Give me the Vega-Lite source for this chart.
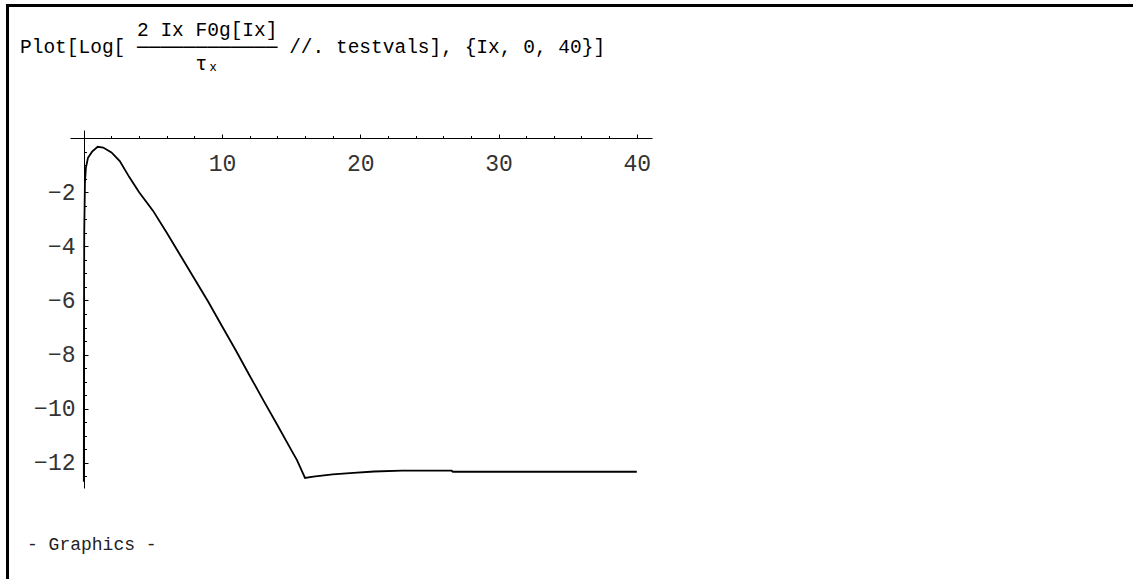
{
  "$schema": "https://vega.github.io/schema/vega-lite/v6.json",
  "width": 582,
  "height": 358,
  "autosize": {"type": "none"},
  "padding": {"left": 70, "top": 130, "right": 481, "bottom": 91},
  "background": "white",
  "config": {"view": {"stroke": null}, "font": "Liberation Mono"},
  "title": {
    "text": [
      "\u200b\u00a0\u00a0\u00a0\u00a0\u00a0\u00a0\u00a0\u00a0\u00a0\u00a02 Ix F0g[Ix]",
      "Plot[Log[\u00a0──────────── //. testvals], {Ix, 0, 40}]",
      "\u200b\u00a0\u00a0\u00a0\u00a0\u00a0\u00a0\u00a0\u00a0\u00a0\u00a0\u00a0\u00a0\u00a0\u00a0\u00a0τₓ"
    ],
    "anchor": "start",
    "frame": "group",
    "align": "left",
    "baseline": "top",
    "font": "Liberation Mono",
    "fontSize": 19.5,
    "fontWeight": "normal",
    "color": "black",
    "lineHeight": 17,
    "dx": -50,
    "offset": -72
  },
  "data": {
    "values": [
      {"Ix": 0, "v": -12.7},
      {"Ix": 0.01, "v": -7.5},
      {"Ix": 0.03, "v": -3.5},
      {"Ix": 0.08, "v": -1.65},
      {"Ix": 0.15, "v": -1.1},
      {"Ix": 0.3, "v": -0.73},
      {"Ix": 0.6, "v": -0.5},
      {"Ix": 1.0, "v": -0.32},
      {"Ix": 1.4, "v": -0.35},
      {"Ix": 2.0, "v": -0.53},
      {"Ix": 2.6, "v": -0.85},
      {"Ix": 3.3, "v": -1.45},
      {"Ix": 4, "v": -2.0},
      {"Ix": 5, "v": -2.68},
      {"Ix": 6, "v": -3.5},
      {"Ix": 7, "v": -4.35},
      {"Ix": 8, "v": -5.2},
      {"Ix": 9, "v": -6.05},
      {"Ix": 10, "v": -6.95},
      {"Ix": 11, "v": -7.85},
      {"Ix": 12, "v": -8.78},
      {"Ix": 13, "v": -9.7},
      {"Ix": 14, "v": -10.6},
      {"Ix": 15, "v": -11.52},
      {"Ix": 15.42, "v": -11.9},
      {"Ix": 15.64, "v": -12.15},
      {"Ix": 16.0, "v": -12.56},
      {"Ix": 16.6, "v": -12.51},
      {"Ix": 18, "v": -12.43},
      {"Ix": 19.5, "v": -12.37},
      {"Ix": 21, "v": -12.32},
      {"Ix": 23, "v": -12.29},
      {"Ix": 26.6, "v": -12.29},
      {"Ix": 26.7, "v": -12.33},
      {"Ix": 40, "v": -12.33}
    ]
  },
  "resolve": {"axis": {"x": "independent", "y": "independent"}},
  "layer": [
    {
      "mark": {"type": "line", "color": "black", "strokeWidth": 1.8, "clip": false},
      "encoding": {
        "x": {
          "field": "Ix",
          "type": "quantitative",
          "scale": {"domain": [-1, 41.1], "nice": false, "zero": false},
          "axis": {
            "orient": "top",
            "offset": -8,
            "title": null,
            "grid": false,
            "values": [10, 20, 30, 40],
            "format": "d",
            "tickSize": 4,
            "tickColor": "black",
            "tickWidth": 1,
            "domainColor": "black",
            "domainWidth": 1,
            "labelBaseline": "top",
            "labelPadding": -18,
            "labelFont": "Liberation Mono",
            "labelFontSize": 23,
            "labelFontWeight": "normal",
            "labelColor": "#333",
            "labelOverlap": false,
            "labelFlush": false
          }
        },
        "y": {
          "field": "v",
          "type": "quantitative",
          "scale": {"domain": [-12.93, 0.3], "nice": false, "zero": false},
          "axis": {
            "orient": "right",
            "offset": -568,
            "title": null,
            "grid": false,
            "values": [-12, -10, -8, -6, -4, -2],
            "format": "d",
            "tickSize": 4,
            "tickColor": "black",
            "tickWidth": 1,
            "domainColor": "black",
            "domainWidth": 1,
            "labelAlign": "right",
            "labelBaseline": "middle",
            "labelPadding": -13,
            "labelFont": "Liberation Mono",
            "labelFontSize": 23,
            "labelFontWeight": "normal",
            "labelColor": "#333",
            "labelOverlap": false,
            "labelFlush": false
          }
        }
      }
    },
    {
      "mark": {"type": "point", "opacity": 0, "clip": false},
      "encoding": {
        "x": {
          "field": "Ix",
          "type": "quantitative",
          "axis": {
            "orient": "top",
            "offset": -8,
            "title": null,
            "grid": false,
            "domain": false,
            "labels": false,
            "values": [2, 4, 6, 8, 12, 14, 16, 18, 22, 24, 26, 28, 32, 34, 36, 38],
            "tickSize": 2.5,
            "tickColor": "black",
            "tickWidth": 1
          }
        },
        "y": {
          "field": "v",
          "type": "quantitative",
          "axis": {
            "orient": "right",
            "offset": -568,
            "title": null,
            "grid": false,
            "domain": false,
            "labels": false,
            "values": [-12.5, -11.5, -11, -10.5, -9.5, -9, -8.5, -7.5, -7, -6.5, -5.5, -5, -4.5, -3.5, -3, -2.5, -1.5, -1, -0.5],
            "tickSize": 2.5,
            "tickColor": "black",
            "tickWidth": 1
          }
        }
      }
    },
    {
      "data": {"values": [{}]},
      "mark": {"type": "rule", "color": "black", "strokeWidth": 3, "clip": false},
      "encoding": {
        "x": {"datum": -5.63, "axis": null},
        "x2": {"datum": 80},
        "y": {"datum": 4.9, "axis": null}
      }
    },
    {
      "data": {"values": [{}]},
      "mark": {"type": "rule", "color": "black", "strokeWidth": 3, "clip": false},
      "encoding": {
        "x": {"datum": -5.52, "axis": null},
        "y": {"datum": 4.96, "axis": null},
        "y2": {"datum": -20}
      }
    },
    {
      "data": {"values": [{}]},
      "mark": {"type": "text", "text": "- Graphics -", "align": "left", "baseline": "middle", "font": "Liberation Mono", "fontSize": 18, "fontWeight": "normal", "color": "#222", "clip": false},
      "encoding": {
        "x": {"datum": -4.11, "axis": null},
        "y": {"datum": -15.04, "axis": null}
      }
    }
  ]
}
